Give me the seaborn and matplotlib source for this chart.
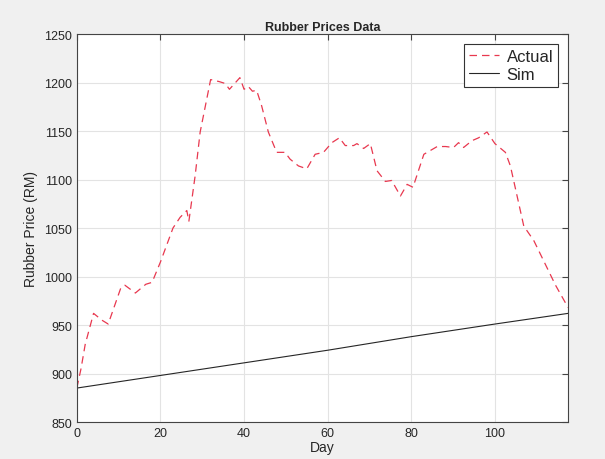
import numpy as np
import pandas as pd
import seaborn as sns
import matplotlib.pyplot as plt

# values
actual_day = [0, 1, 2, 4, 6, 7.5, 10.5, 11.5, 14, 16.5, 18, 20, 23, 24.7, 26.3, 26.8,
              28.3, 29.5, 32, 34, 35.5, 36.5, 39, 40, 41, 42, 43, 44.2, 45.8, 47.8,
              49.8, 51, 53, 55, 57, 59, 61, 62.8, 64.2, 66.2, 67, 68.6, 70.2, 71.8,
              73.8, 75.3, 77.4, 79, 80.4, 83, 84.6, 86.2, 88.2, 90.1, 91.3, 92.5,
              94.5, 96.1, 98.1, 100, 102.5, 103.7, 106.9, 109.3, 114.5, 117.5]
actual_price = [885, 905, 930, 962, 955, 951, 988, 991, 983, 992, 994, 1015, 1050, 1061,
                1068, 1057, 1104, 1149, 1203, 1201, 1199, 1193, 1205, 1193, 1196, 1191,
                1192, 1176, 1149, 1128, 1128, 1121, 1114, 1111, 1126, 1128, 1138, 1143,
                1135, 1135, 1137, 1132, 1137, 1109, 1098, 1099, 1083, 1095, 1092, 1126,
                1130, 1134, 1134, 1133, 1138, 1133, 1140, 1143, 1149, 1137, 1128, 1114,
                1052, 1037, 991, 968]
sim_day = [0, 20, 40, 60, 80, 100, 117.5]
sim_price = [885, 898, 911, 924, 938, 951, 962]

df_act = pd.DataFrame({'Day': actual_day, 'Price': actual_price})
df_sim = pd.DataFrame({'Day': sim_day, 'Price': sim_price})

sns.set_style('white')
plt.rcParams['font.family'] = ['Liberation Sans', 'DejaVu Sans']

fig = plt.figure(figsize=(6.05, 4.6), dpi=100, facecolor='#f0f0f0')
ax = fig.add_axes([0.127, 0.0804, 0.812, 0.8435])

sns.lineplot(data=df_act, x='Day', y='Price', ax=ax, color='#e8384f', lw=0.9,
             linestyle=(0, (6, 4)), label='Actual', sort=False)
sns.lineplot(data=df_sim, x='Day', y='Price', ax=ax, color='#262626', lw=0.8,
             label='Sim', sort=False)

ax.set_xlim(0, 117.5)
ax.set_ylim(850, 1250)
ax.set_xticks(np.arange(0, 101, 20))
ax.set_yticks(np.arange(850, 1251, 50))
ax.grid(True, color='#e3e3e3', lw=0.8)
ax.tick_params(direction='in', top=True, right=True, length=4, labelsize=9,
               color='#444444', labelcolor='#262626')
for s in ax.spines.values():
    s.set_color('#444444')
    s.set_linewidth(0.8)

ax.set_title('Rubber Prices Data', fontsize=9, fontweight='bold', pad=3)
ax.set_xlabel('Day', fontsize=10, labelpad=1)
ax.set_ylabel('Rubber Price (RM)', fontsize=10, labelpad=4)

leg = ax.legend(loc='upper right', fontsize=12, fancybox=False, framealpha=1,
                edgecolor='#333333', handlelength=1.8, borderpad=0.3,
                labelspacing=0.15, handletextpad=0.45, borderaxespad=0.6)
leg.get_frame().set_linewidth(0.8)

fig.savefig('out.png', dpi=100, facecolor=fig.get_facecolor())
